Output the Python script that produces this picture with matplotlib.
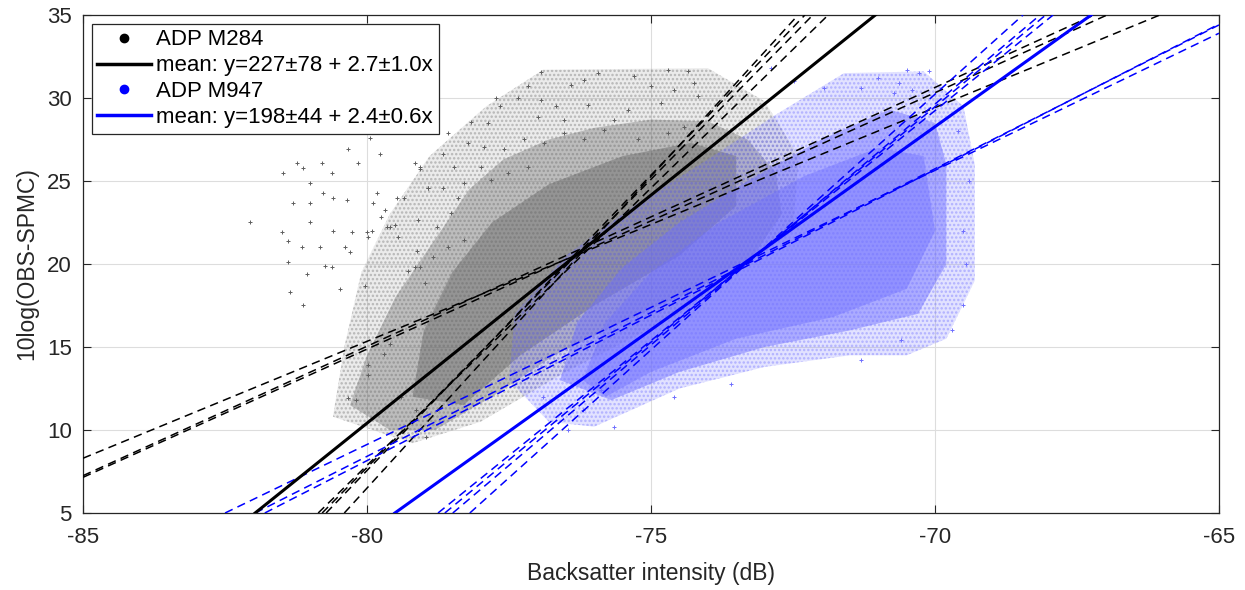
import matplotlib
matplotlib.use('Agg')
import matplotlib.pyplot as plt
from matplotlib.lines import Line2D
from matplotlib.patches import Polygon

# --- values ---
# outline of the grey (ADP M284) point cloud, three density levels
grey_sparse = [(-80.6, 10.8), (-80.4, 15.0), (-80.1, 19.5), (-79.6, 23.0), (-78.9, 26.5),
               (-77.9, 29.5), (-76.9, 31.7), (-74.0, 31.8), (-73.0, 29.8), (-72.4, 26.5),
               (-72.5, 22.0), (-74.5, 17.0), (-76.5, 13.5), (-78.0, 10.5), (-79.2, 9.2)]
grey_mid = [(-80.3, 11.5), (-80.0, 14.5), (-79.5, 18.0), (-79.0, 20.5), (-78.6, 22.5),
            (-78.2, 24.5), (-77.6, 26.3), (-76.8, 27.5), (-76.0, 28.2), (-75.0, 28.7),
            (-74.0, 28.6), (-73.3, 27.5), (-72.8, 25.5), (-72.7, 23.0), (-73.2, 20.5),
            (-74.2, 18.5), (-75.5, 16.5), (-76.7, 14.5), (-77.8, 12.0), (-78.8, 10.0), (-79.6, 10.0)]
grey_dense = [(-79.2, 12.0), (-79.0, 16.0), (-78.5, 19.5), (-77.8, 22.5), (-76.8, 24.8),
              (-75.5, 26.5), (-74.3, 27.3), (-73.5, 26.5), (-73.5, 23.5), (-74.5, 20.5),
              (-76.0, 17.5), (-77.3, 14.5), (-78.3, 11.5)]

# outline of the blue (ADP M947) point cloud
blue_sparse = [(-77.5, 13.0), (-77.4, 17.0), (-76.5, 20.5), (-75.3, 23.5), (-74.0, 26.3),
               (-72.8, 29.0), (-71.6, 31.5), (-70.2, 31.6), (-69.5, 29.5), (-69.3, 26.0),
               (-69.3, 19.0), (-69.8, 15.5), (-70.5, 14.5), (-71.5, 14.5), (-73.0, 13.8),
               (-74.5, 12.5), (-76.0, 10.2), (-76.8, 10.5)]
blue_mid = [(-76.6, 13.0), (-76.3, 16.5), (-75.5, 19.8), (-74.5, 22.5), (-73.3, 25.0),
            (-72.0, 27.5), (-70.8, 29.3), (-70.0, 28.5), (-69.8, 26.0), (-69.8, 20.0),
            (-70.3, 17.0), (-71.5, 16.0), (-73.0, 15.0), (-74.5, 13.5), (-75.7, 11.8)]
blue_dense = [(-76.2, 13.0), (-75.8, 16.5), (-75.0, 19.5), (-73.8, 22.5), (-72.3, 25.3),
              (-71.0, 27.0), (-70.2, 26.5), (-70.0, 22.0), (-70.5, 18.5), (-71.8, 16.8),
              (-73.5, 15.5), (-75.0, 13.5), (-75.8, 12.0)]

# isolated points outside the dense clouds
grey_pts_x = [-81.48, -81.23, -81.13, -80.79, -80.62, -81.0, -80.77, -80.6, -81.3, -81.0,
              -80.35, -82.06, -81.0, -80.6, -81.5, -81.39, -81.14, -80.83, -80.39, -80.3,
              -81.4, -80.74, -80.62, -81.06, -80.48, -81.36, -80.26, -80.16, -80.33, -79.95,
              -79.77, -79.82, -80.0, -79.91, -80.04, -79.47, -79.68, -79.51, -79.6, -79.15,
              -79.07, -78.92, -79.12, -78.84, -79.15, -79.07, -79.28, -78.98, -78.66, -81.12,
              -80.34, -80.2, -79.99, -79.99, -79.7, -79.59, -78.97, -79.14, -79.4,
              -76.94, -76.18, -75.93, -76.41, -77.17, -76.94, -77.73, -77.65, -77.35, -76.68,
              -76.11, -75.65, -76.53, -78.17, -77.87, -76.99, -75.41, -74.82, -74.59, -75.0,
              -75.3, -74.7, -74.35, -74.24, -74.17, -78.58, -78.23, -77.94, -77.59, -77.24,
              -76.89, -76.53, -76.18, -75.83, -75.23, -74.7, -74.42, -79.06, -78.67, -78.47,
              -78.3, -78.0, -77.82, -77.52, -77.17, -79.35, -78.92, -78.53, -78.4, -79.11,
              -78.76, -79.89, -79.76, -79.64, -79.99, -79.46, -78.58, -78.3]
grey_pts_y = [25.48, 26.1, 25.8, 26.1, 25.5, 24.9, 24.3, 24.0, 23.7, 23.7,
              23.85, 22.5, 22.5, 22.0, 21.9, 21.4, 21.0, 21.0, 21.0, 20.7,
              20.1, 19.9, 19.8, 19.4, 18.5, 18.3, 21.9, 26.1, 26.9, 27.6,
              26.6, 24.3, 21.9, 22.0, 18.7, 24.0, 23.25, 22.35, 22.2, 26.1,
              25.7, 24.6, 20.8, 20.4, 19.8, 19.8, 19.6, 18.85, 24.6, 17.5,
              11.9, 11.8, 13.9, 13.3, 14.6, 15.2, 9.6, 11.2, 12.0,
              31.57, 31.1, 31.5, 30.8, 30.7, 29.9, 30.0, 29.5, 30.0, 29.5,
              29.6, 28.7, 28.7, 28.55, 28.5, 28.85, 29.3, 29.7, 30.5, 30.7,
              31.3, 31.7, 31.6, 30.9, 30.1, 27.9, 27.3, 27.05, 26.9, 27.5,
              27.3, 27.9, 27.5, 28.1, 27.5, 27.9, 28.25, 25.85, 26.6, 25.85,
              24.9, 25.85, 25.05, 25.5, 25.85, 24.0, 24.6, 23.05, 24.0, 22.65,
              22.2, 23.7, 22.85, 22.25, 21.6, 21.6, 21.0, 21.45]

blue_pts_x = [-70.5, -70.29, -70.1, -71.0, -70.64, -71.3, -70.41, -70.73, -71.95, -72.48,
              -72.88, -69.6, -69.4, -69.5, -69.5, -69.7, -69.45, -76.46, -76.9, -75.65,
              -75.88, -76.2, -70.6, -74.6, -73.6, -71.3]
blue_pts_y = [31.7, 31.5, 31.6, 31.2, 30.9, 30.6, 30.5, 30.3, 30.6, 31.0,
              31.8, 28.0, 25.0, 22.0, 17.5, 16.0, 20.0, 10.0, 12.0, 10.2,
              12.4, 11.2, 15.4, 12.0, 12.8, 14.2]

# fitted lines as two points on each line (x0, y0, x1, y1)
black_mean = (-81.97, 5, -71.05, 35)
blue_mean = (-79.51, 5, -67.25, 35)
black_dashed = [(-80.86, 5, -71.88, 35), (-80.79, 5, -72.15, 35), (-80.72, 5, -72.29, 35),
                (-80.40, 5, -72.41, 35), (-85, 8.3, -66.04, 35), (-85, 7.25, -67.2, 35),
                (-85, 7.15, -66.97, 35)]
blue_dashed = [(-78.75, 5, -67.92, 35), (-78.63, 5, -68.05, 35), (-78.49, 5, -68.15, 35),
               (-78.19, 5, -68.45, 35), (-82.5, 5, -65, 33.9), (-81.97, 5, -65, 34.4),
               (-81.80, 5, -65, 34.45)]

labels = ['ADP M284', 'mean: y=227\u00b178 + 2.7\u00b11.0x',
          'ADP M947', 'mean: y=198\u00b144 + 2.4\u00b10.6x']
x_ticks = [-85, -80, -75, -70, -65]
y_ticks = [5, 10, 15, 20, 25, 30, 35]

plt.rcParams['font.family'] = ['Liberation Sans', 'DejaVu Sans']
plt.rcParams['axes.unicode_minus'] = False
plt.rcParams['hatch.linewidth'] = 1.2

fig = plt.figure(figsize=(12.45, 5.9), dpi=100)
ax = fig.add_axes([0.0667, 0.1305, 0.9124, 0.8441])

grey = '#5e5e5e'
lblue = '#6f6fff'

# grey cloud: translucent layers with a dotted texture
for poly, a in [(grey_sparse, 0.12), (grey_mid, 0.33), (grey_dense, 0.42)]:
    ax.add_patch(Polygon(poly, closed=True, facecolor=grey, edgecolor='none', alpha=a, zorder=1))
ax.add_patch(Polygon(grey_sparse, closed=True, facecolor='none', edgecolor=grey, lw=0,
                     hatch='....', alpha=0.35, zorder=1))
ax.plot(grey_pts_x, grey_pts_y, '+', color=grey, ms=2.5, mew=0.7, zorder=2)

# blue cloud
for poly, a in [(blue_sparse, 0.2), (blue_mid, 0.48), (blue_dense, 0.42)]:
    ax.add_patch(Polygon(poly, closed=True, facecolor=lblue, edgecolor='none', alpha=a, zorder=3))
ax.add_patch(Polygon(blue_sparse, closed=True, facecolor='none', edgecolor=lblue, lw=0,
                     hatch='....', alpha=0.4, zorder=3))
ax.plot(blue_pts_x, blue_pts_y, '+', color=lblue, ms=2.5, mew=0.7, zorder=4)

# regression lines
for x0, y0, x1, y1 in black_dashed:
    ax.axline((x0, y0), (x1, y1), color='black', lw=1.1, dashes=(5.5, 3.5), zorder=5)
for x0, y0, x1, y1 in blue_dashed:
    ax.axline((x0, y0), (x1, y1), color='blue', lw=1.1, dashes=(5.5, 3.5), zorder=5)
ax.axline(black_mean[:2], black_mean[2:], color='black', lw=2.2, zorder=6)
ax.axline(blue_mean[:2], blue_mean[2:], color='blue', lw=2.2, zorder=6)

ax.set_xlim(-85, -65)
ax.set_ylim(5, 35)
ax.set_xticks(x_ticks)
ax.set_yticks(y_ticks)
ax.grid(True, color='#dddddd', lw=0.8)
ax.set_axisbelow(True)
ax.tick_params(direction='in', length=6, width=0.8, top=True, right=True,
               labelsize=16, colors='#262626', pad=8)
ax.tick_params(axis='x', pad=10)
for s in ax.spines.values():
    s.set_color('#262626')
    s.set_linewidth(0.9)
ax.set_xlabel('Backsatter intensity (dB)', fontsize=16.5, color='#262626', labelpad=10)
ax.set_ylabel('10log(OBS-SPMC)', fontsize=16.5, color='#262626', labelpad=6)

handles = [Line2D([], [], ls='none', marker='o', ms=6, color='black'),
           Line2D([], [], color='black', lw=2.5),
           Line2D([], [], ls='none', marker='o', ms=6, color='blue'),
           Line2D([], [], color='blue', lw=2.5)]
leg = ax.legend(handles, labels, loc='upper left', fontsize=16, frameon=True, fancybox=False,
                framealpha=1, edgecolor='#262626', handlelength=2.4, handletextpad=0.25,
                borderpad=0.25, labelspacing=0.22, borderaxespad=0.4)
leg.get_frame().set_linewidth(0.9)

fig.savefig('out.png', dpi=100)
plt.close(fig)
